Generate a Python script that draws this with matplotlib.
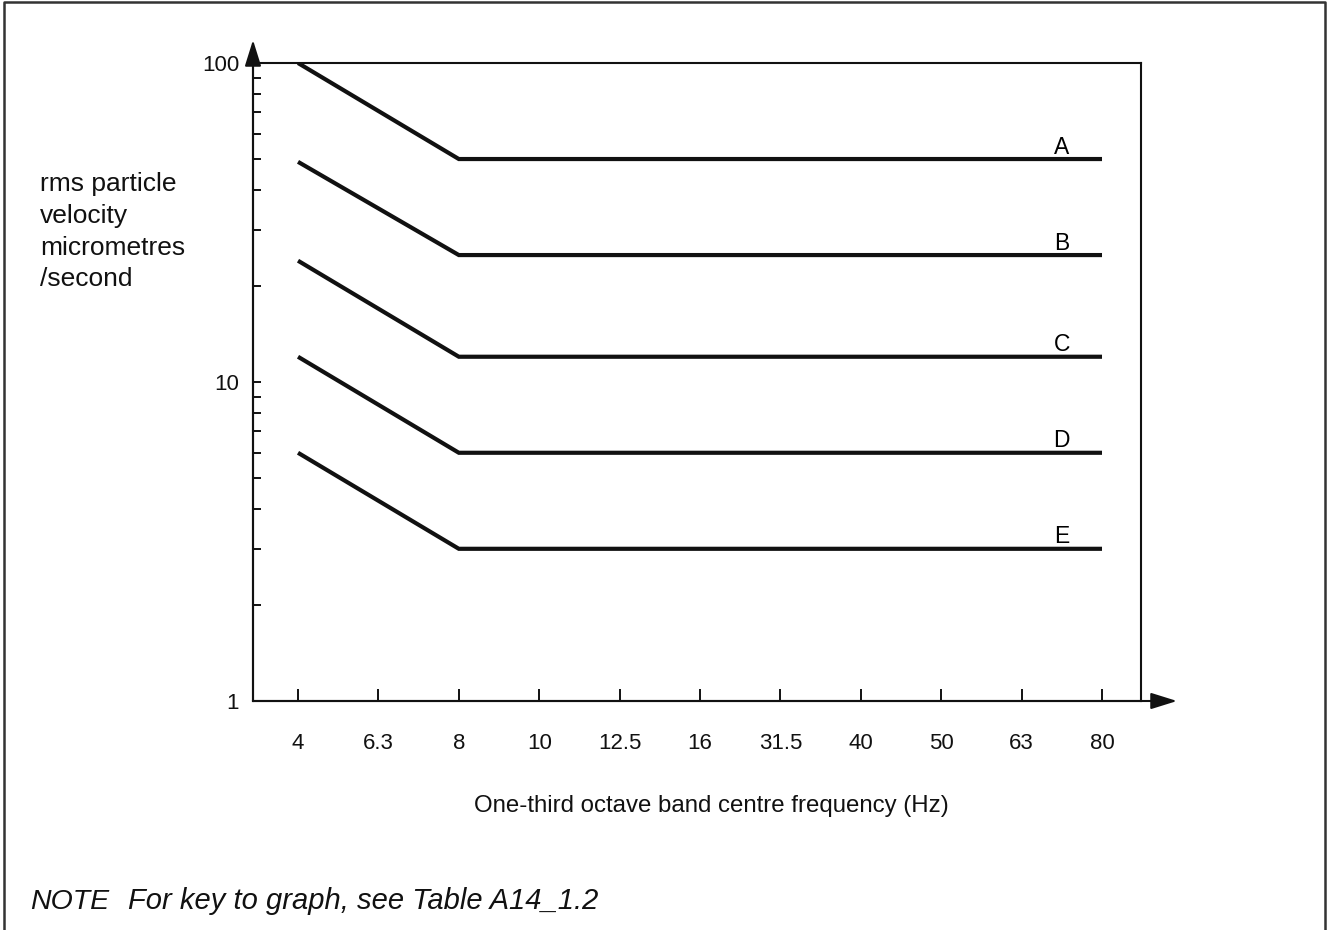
import matplotlib.pyplot as plt
from matplotlib.lines import Line2D

plt.rcParams['font.family'] = ['Liberation Sans', 'DejaVu Sans']

# one-third octave band centres shown on the x axis (evenly spaced)
freq_labels = ['4', '6.3', '8', '10', '12.5', '16', '31.5', '40', '50', '63', '80']

# curves: value at 4 Hz, then flat value from 8 Hz up to 80 Hz
curve_names = ['A', 'B', 'C', 'D', 'E']
v_start = [100, 49, 24, 12, 6]
v_flat = [50, 25, 12, 6, 3]

W, H = 1331, 930
fig = plt.figure(figsize=(W / 100, H / 100), dpi=100)
ax = fig.add_axes([253 / W, 1 - 701 / H, (1141 - 253) / W, (701 - 63) / H])

x_idx = list(range(len(freq_labels)))
knee = freq_labels.index('8')
last = len(freq_labels) - 1

for name, v0, v1 in zip(curve_names, v_start, v_flat):
    ax.plot([0, knee, last], [v0, v1, v1], color='#111111', lw=3.0,
            solid_capstyle='butt', solid_joinstyle='miter')
    ax.annotate(name, xy=(9.5, v1), xytext=(0, 8.5), textcoords='offset points',
                ha='center', va='center', fontsize=16.5)

ax.set_yscale('log')
ax.set_ylim(1, 100)
ax.set_xlim(-0.56, 10.485)

ax.set_xticks(x_idx)
ax.set_xticklabels(freq_labels)
ax.set_yticks([1, 10, 100])
ax.set_yticklabels(['1', '10', '100'])

ax.tick_params(axis='x', direction='in', length=8.5, width=1.4, pad=23,
               labelsize=16, colors='#111111')
ax.tick_params(axis='y', which='both', direction='in', length=6, width=1.4,
               pad=10, labelsize=16, colors='#111111')
ax.tick_params(axis='y', which='minor', labelleft=False)

for s in ax.spines.values():
    s.set_linewidth(1.5)
    s.set_color('#111111')

# axis arrows
arrow = dict(arrowstyle='-|>,head_length=0.8,head_width=0.25', color='#111111',
             lw=1.5, shrinkA=0, shrinkB=0, mutation_scale=20)
ax.annotate('', xy=(0, (701 - 40) / 638), xytext=(0, 0), xycoords='axes fraction',
            arrowprops=arrow, annotation_clip=False)
ax.annotate('', xy=((1177 - 253) / 888, 0), xytext=(0, 0), xycoords='axes fraction',
            arrowprops=arrow, annotation_clip=False)

fig.text(40 / W, 1 - 172 / H, 'rms particle\nvelocity\nmicrometres\n/second',
         ha='left', va='top', fontsize=19, linespacing=1.41, color='#111111')
fig.text(711 / W, 1 - 806 / H, 'One-third octave band centre frequency (Hz)',
         ha='center', va='center', fontsize=17.3, color='#111111')
fig.text(30 / W, 1 - 902 / H, 'NOTE', ha='left', va='center', fontsize=20.5,
         style='italic', color='#111111')
fig.text(128 / W, 1 - 901 / H, 'For key to graph, see Table A14_1.2', ha='left',
         va='center', fontsize=21, style='italic', color='#111111')

# page frame (open at the bottom)
fx = [4 / W, 4 / W, 1325 / W, 1325 / W]
fy = [0, 1 - 2 / H, 1 - 2 / H, 0]
fig.add_artist(Line2D(fx, fy, transform=fig.transFigure, color='#333333', lw=1.8))

fig.savefig('out.png', dpi=100)
